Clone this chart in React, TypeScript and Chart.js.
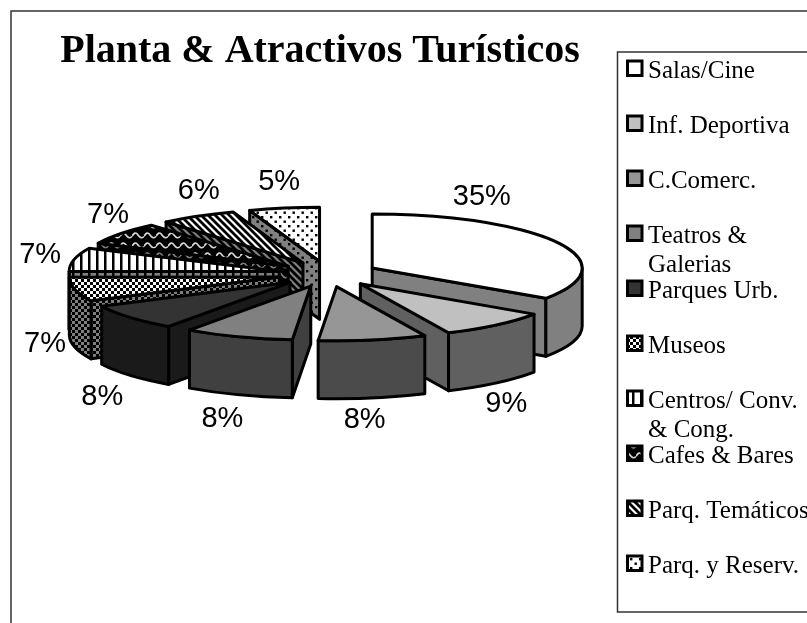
import React, { useEffect, useRef } from "react";
import { Chart, registerables } from "chart.js";

Chart.register(...registerables);

const categories = [
  "Salas/Cine",
  "Inf. Deportiva",
  "C.Comerc.",
  ["Teatros &", "Galerias"],
  "Parques Urb.",
  "Museos",
  ["Centros/ Conv.", "& Cong."],
  "Cafes & Bares",
  "Parq. Temáticos",
  "Parq. y Reserv.",
];
const shares = [34.5, 8.6, 8.3, 8.4, 7.9, 7.2, 7.1, 6.7, 5.9, 5.4];
const chartTitle = "Planta & Atractivos Turísticos";

// [kind, foreground, background] of top faces and of side faces
const topFills = [
  ["solid", "#ffffff"],
  ["solid", "#c0c0c0"],
  ["solid", "#969696"],
  ["solid", "#808080"],
  ["solid", "#333333"],
  ["checker", "#000000", "#ffffff"],
  ["vstripe", "#000000", "#ffffff"],
  ["wave", "#d8d8d8", "#000000"],
  ["diag", "#000000", "#ffffff"],
  ["dots", "#000000", "#ffffff"],
];
const sideFills = [
  ["solid", "#808080"],
  ["solid", "#606060"],
  ["solid", "#4b4b4b"],
  ["solid", "#404040"],
  ["solid", "#1a1a1a"],
  ["checker", "#000000", "#808080"],
  ["vstripe", "#000000", "#808080"],
  ["wave", "#808080", "#000000"],
  ["diag", "#000000", "#808080"],
  ["dots", "#000000", "#808080"],
];
const labelNudges = [
  [-76, -46], [10, 79], [-8, 80], [-16, 82], [-28, 80],
  [-30, 55], [-34, -5], [-13, -19], [1, -25], [-5, -26],
];

const PIE_X = 328;
const PIE_Y = 274;
const RADIUS = 210;
const TILT = 0.257;
const DEPTH = 58;
const EXPLODE = 50;

function makeFill(spec: string[]) {
  const [kind, fg, bg] = spec;
  if (kind === "solid") return fg;
  const c = document.createElement("canvas");
  const size: Record<string, [number, number]> = {
    checker: [6, 6], vstripe: [8, 8], wave: [12, 10], diag: [7, 7], dots: [9, 9],
  };
  c.width = size[kind][0];
  c.height = size[kind][1];
  const g = c.getContext("2d")!;
  g.fillStyle = bg;
  g.fillRect(0, 0, c.width, c.height);
  g.fillStyle = fg;
  g.strokeStyle = fg;
  if (kind === "checker") {
    g.fillRect(0, 0, 3, 3);
    g.fillRect(3, 3, 3, 3);
  } else if (kind === "vstripe") {
    g.fillRect(0, 0, 2.5, 8);
  } else if (kind === "wave") {
    g.lineWidth = 1.6;
    g.beginPath();
    g.moveTo(0, 6.5);
    g.quadraticCurveTo(3, 0.5, 6, 5);
    g.quadraticCurveTo(9, 9.5, 12, 6.5);
    g.stroke();
  } else if (kind === "diag") {
    g.lineWidth = 2.8;
    g.beginPath();
    for (const o of [-7, 0, 7]) {
      g.moveTo(o - 2, -2);
      g.lineTo(o + 9, 9);
    }
    g.stroke();
  } else {
    g.fillRect(0, 0, 2.4, 2.4);
    g.fillRect(4.5, 4.5, 2.4, 2.4);
  }
  return g.createPattern(c, "repeat")!;
}

function pie3dPlugin(sides: (string | CanvasPattern)[]) {
  return {
    id: "pie3d",
    beforeDraw(chart: any) {
      const ctx = chart.ctx;
      ctx.save();
      ctx.fillStyle = "#ffffff";
      ctx.fillRect(0, 0, chart.width, chart.height);
      ctx.strokeStyle = "#333333";
      ctx.lineWidth = 1.5;
      ctx.strokeRect(11, 11, chart.width + 20, chart.height + 20);
      ctx.restore();
    },
    beforeDatasetsDraw(chart: any) {
      const ctx = chart.ctx;
      const arcs = chart.getDatasetMeta(0).data;
      const order = arcs
        .map((a: any, i: number) => ({ a, i, mid: (a.startAngle + a.endAngle) / 2 }))
        .sort((p: any, q: any) => Math.sin(p.mid) - Math.sin(q.mid));
      ctx.save();
      ctx.lineJoin = "round";
      for (const { a, i, mid } of order) {
        const R = RADIUS;
        const Ry = R * TILT;
        const ax = PIE_X + EXPLODE * Math.cos(mid);
        const ay = PIE_Y + EXPLODE * TILT * Math.sin(mid);
        const s = a.startAngle;
        const e = a.endAngle;
        ctx.lineWidth = a.options.borderWidth;
        ctx.strokeStyle = a.options.borderColor;
        const paint = (fill: any) => {
          ctx.fillStyle = fill;
          ctx.fill();
          ctx.stroke();
        };
        const cut = (t: number) => {
          const px = ax + R * Math.cos(t);
          const py = ay + Ry * Math.sin(t);
          ctx.beginPath();
          ctx.moveTo(ax, ay);
          ctx.lineTo(px, py);
          ctx.lineTo(px, py + DEPTH);
          ctx.lineTo(ax, ay + DEPTH);
          ctx.closePath();
          paint(sides[i]);
        };
        if (Math.cos(s) < 0) cut(s);
        if (Math.cos(e) > 0) cut(e);
        const lo = Math.max(s, 0);
        const hi = Math.min(e, Math.PI);
        if (hi > lo) {
          ctx.beginPath();
          ctx.ellipse(ax, ay, R, Ry, 0, lo, hi);
          ctx.ellipse(ax, ay + DEPTH, R, Ry, 0, hi, lo, true);
          ctx.closePath();
          paint(sides[i]);
        }
        ctx.beginPath();
        ctx.moveTo(ax, ay);
        ctx.ellipse(ax, ay, R, Ry, 0, s, e);
        ctx.closePath();
        paint(a.options.backgroundColor);
      }
      // percentage labels
      const values = chart.data.datasets[0].data;
      const total = values.reduce((x: number, y: number) => x + y, 0);
      ctx.fillStyle = "#000000";
      ctx.font = '29px "Liberation Sans", Arial, sans-serif';
      ctx.textAlign = "center";
      ctx.textBaseline = "middle";
      arcs.forEach((a: any, i: number) => {
        const mid = (a.startAngle + a.endAngle) / 2;
        const r = RADIUS + EXPLODE;
        const x = PIE_X + r * Math.cos(mid) + labelNudges[i][0];
        const y = PIE_Y + r * TILT * Math.sin(mid) + labelNudges[i][1];
        ctx.fillText(Math.round((values[i] / total) * 100) + "%", x, y);
      });
      ctx.restore();
      return false;
    },
    afterDraw(chart: any) {
      const ctx = chart.ctx;
      const fills = chart.data.datasets[0].backgroundColor;
      ctx.save();
      ctx.strokeStyle = "#333333";
      ctx.lineWidth = 1.5;
      ctx.strokeRect(617.5, 52, 220, 560);
      ctx.font = '25px "Liberation Serif", "Times New Roman", serif';
      ctx.textBaseline = "middle";
      chart.data.labels.forEach((label: any, i: number) => {
        const y = 68 + i * 55;
        ctx.fillStyle = fills[i];
        ctx.strokeStyle = "#000000";
        ctx.lineWidth = 3;
        ctx.fillRect(627.5, y - 7, 14.5, 14.5);
        ctx.strokeRect(627.5, y - 7, 14.5, 14.5);
        ctx.fillStyle = "#000000";
        const lines = Array.isArray(label) ? label : [label];
        lines.forEach((t: string, k: number) => ctx.fillText(t, 648, y + 3 + k * 29));
      });
      ctx.restore();
    },
  };
}

export default function App() {
  const ref = useRef<HTMLCanvasElement>(null);
  useEffect(() => {
    const fills = topFills.map(makeFill);
    const sides = sideFills.map(makeFill);
    const chart = new Chart(ref.current!, {
      type: "pie",
      data: {
        labels: categories as any,
        datasets: [
          {
            data: shares,
            backgroundColor: fills as any,
            borderColor: "#000000",
            borderWidth: 3,
          },
        ],
      },
      options: {
        responsive: false,
        animation: false,
        radius: RADIUS,
        layout: { padding: { right: 167 } },
        events: [],
        plugins: {
          legend: { display: false },
          tooltip: { enabled: false },
          title: {
            display: true,
            text: chartTitle,
            fullSize: false,
            color: "#000000",
            font: { family: '"Liberation Serif", "Times New Roman", serif', size: 40, weight: "bold" },
            padding: { top: 28, bottom: 10 },
          },
        },
      } as any,
      plugins: [pie3dPlugin(sides) as any],
    });
    return () => chart.destroy();
  }, []);
  return (
    <canvas
      ref={ref}
      width={807}
      height={623}
      style={{ display: "block", position: "absolute", left: 0, top: 0 }}
    />
  );
}
